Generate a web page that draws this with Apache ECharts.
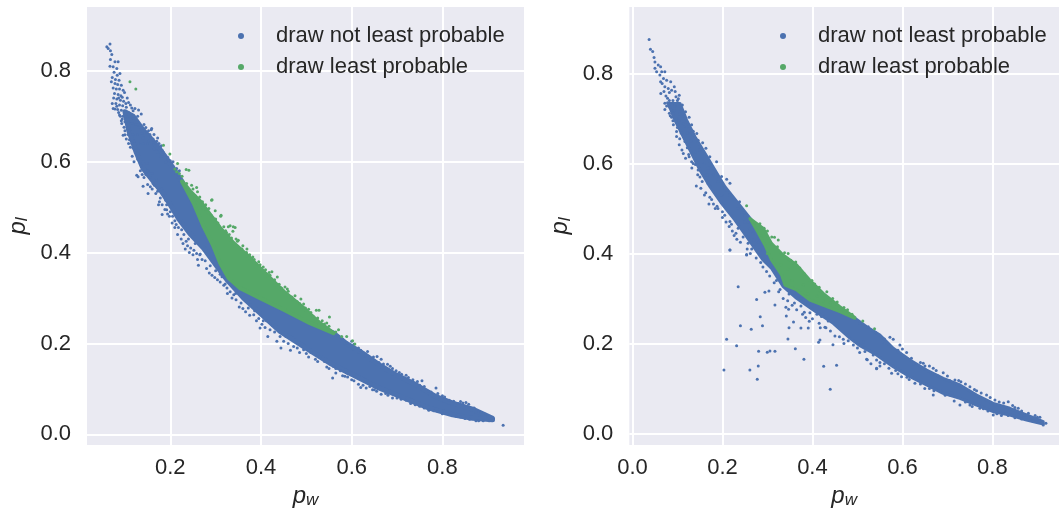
<!DOCTYPE html>
<html>
<head>
<meta charset="utf-8">
<style>html,body{margin:0;padding:0;background:#fff}#c{width:1059px;height:513px}</style>
<script src="https://cdn.jsdelivr.net/npm/echarts@6/dist/echarts.min.js"></script>
</head>
<body>
<div id="c"></div>
<script>
const xTicksLeft = [0.2, 0.4, 0.6, 0.8];
const xTicksRight = [0.0, 0.2, 0.4, 0.6, 0.8];
const yTicks = [0.0, 0.2, 0.4, 0.6, 0.8];
const seriesNames = ['draw not least probable', 'draw least probable'];

// dense regions, outlined: [p_w, p_l]
const leftBlueDense = [[.1,.71],[.118,.70],[.14,.67],[.175,.63],[.2,.595],[.226,.556],[.2514,.509],[.2734,.4576],[.2954,.4135],[.31,.3768],[.3285,.3438],[.354,.3217],[.398,.2997],[.45,.274],[.508,.2446],[.56,.2226],[.5875,.2007],[.624,.1787],[.661,.153],[.698,.131],[.742,.109],[.786,.083],[.8225,.0686],[.8665,.0554],[.9106,.0355],[.9106,.032],[.8665,.0355],[.8225,.0429],[.771,.0576],[.734,.0722],[.698,.087],[.661,.1016],[.624,.12],[.5875,.1383],[.552,.1565],[.494,.193],[.442,.2263],[.398,.2667],[.3615,.2997],[.325,.34],[.303,.3695],[.273,.41],[.243,.442],[.22,.472],[.2,.505],[.18,.535],[.16,.56],[.14,.585],[.125,.62],[.108,.67]];
const leftGreenDense = [[.2257,.5567],[.244,.5347],[.266,.5126],[.288,.4833],[.31,.4539],[.3395,.4209],[.376,.3878],[.413,.351],[.45,.3144],[.494,.2777],[.53,.2446],[.56,.2226],[.508,.2446],[.45,.274],[.398,.2997],[.354,.3217],[.3285,.3438],[.31,.3768],[.2954,.4135],[.2734,.4576],[.2514,.509]];
const rightBlueDense = [[.0796,.7337],[.1056,.7337],[.1204,.6967],[.1389,.6596],[.1611,.6226],[.1833,.5856],[.2056,.5485],[.2352,.5115],[.2648,.4744],[.287,.4374],[.309,.3856],[.3315,.3522],[.339,.33],[.365,.319],[.3944,.2967],[.4315,.282],[.461,.2708],[.4944,.256],[.5204,.2374],[.55,.2189],[.5796,.1893],[.6167,.1633],[.6537,.1411],[.6907,.1226],[.7278,.1078],[.7648,.0856],[.8019,.067],[.8389,.056],[.8759,.0411],[.913,.0263],[.913,.0211],[.8759,.03],[.8389,.0411],[.8019,.0485],[.7648,.0633],[.7278,.0781],[.6907,.0893],[.6537,.1078],[.6167,.1263],[.5796,.1485],[.5426,.1744],[.5056,.195],[.4833,.212],[.4463,.2448],[.4019,.2744],[.3648,.3004],[.3352,.3263],[.3093,.367],[.2907,.385],[.2796,.4004],[.2537,.4374],[.2278,.4744],[.1981,.5115],[.1722,.5485],[.15,.5856],[.1315,.6226],[.113,.6596],[.0944,.6967]];
const rightGreenDense = [[.261,.478],[.291,.456],[.309,.4226],[.335,.3967],[.365,.3744],[.394,.341],[.424,.3115],[.461,.2819],[.4944,.258],[.4944,.256],[.461,.2708],[.4315,.282],[.3944,.2967],[.365,.319],[.339,.33],[.3315,.3522],[.309,.3856],[.2944,.419],[.276,.452]];

// individual points: [p_w, p_l]
const leftBluePoints = [[.067,.859],[.06,.853],[.063,.849],[.068,.844],[.071,.836],[.068,.825],[.078,.82],[.085,.82],[.067,.81],[.074,.809],[.082,.805],[.089,.794],[.076,.797],[.083,.79],[.072,.785],[.079,.781],[.087,.779],[.07,.776],[.078,.772],[.084,.77],[.092,.768],[.074,.762],[.081,.76],[.088,.76],[.096,.757],[.077,.75],[.085,.748],[.091,.745],[.099,.752],[.075,.74],[.082,.738],[.09,.735],[.097,.733],[.105,.74],[.08,.728],[.088,.725],[.095,.723],[.103,.72],[.112,.725],[.072,.728],[.084,.715],[.092,.713],[.1,.71],[.108,.708],[.118,.712],[.074,.717],[.078,.716],[.088,.703],[.096,.7],[.104,.698],[.112,.697],[.12,.695],[.128,.7],[.136,.705],[.122,.717],[.13,.714],[.092,.69],[.1,.688],[.108,.686],[.116,.684],[.124,.682],[.132,.68],[.142,.682],[.098,.676],[.106,.674],[.11,.668],[.093,.684],[.096,.658],[.1,.659],[.107,.66],[.118,.66],[.128,.66],[.138,.662],[.148,.665],[.158,.67],[.159,.673],[.11,.648],[.12,.645],[.13,.64],[.14,.64],[.152,.645],[.162,.65],[.172,.652],[.118,.63],[.128,.625],[.165,.635],[.175,.64],[.185,.62],[.115,.64],[.129,.618],[.126,.57],[.129,.567],[.14,.546],[.151,.53],[.162,.552],[.174,.505],[.192,.494],[.182,.484],[.13,.61],[.14,.6],[.136,.592],[.148,.596],[.15,.58],[.16,.574],[.155,.565],[.17,.56],[.165,.548],[.18,.54],[.172,.535],[.185,.525],[.178,.52],[.19,.515],[.192,.505],[.194,.485],[.2,.49],[.205,.48],[.21,.47],[.218,.455],[.213,.462],[.225,.45],[.23,.44],[.222,.468],[.235,.425],[.24,.43],[.245,.41],[.25,.395],[.26,.385],[.255,.42],[.265,.395],[.233,.408],[.266,.397],[.277,.382],[.288,.371],[.314,.347],[.321,.331],[.332,.314],[.34,.307],[.356,.289],[.372,.278],[.384,.263],[.398,.234],[.409,.235],[.415,.215],[.442,.215],[.444,.19],[.472,.193],[.494,.186],[.53,.171],[.56,.149],[.14,.652],[.155,.66],[.165,.628],[.172,.622],[.18,.612],[.19,.6],[.196,.604],[.203,.595],[.207,.589],[.212,.575],[.218,.57],[.15,.64],
[.3,.36],[.31,.335],[.325,.322],[.345,.296],[.36,.277],[.375,.262],[.39,.25],[.405,.25],[.42,.23],[.43,.225],[.45,.205],[.46,.2],[.48,.19],[.5,.178],[.51,.18],[.52,.165],[.54,.16],[.55,.145],[.558,.124],[.58,.129],[.591,.126],[.62,.103],[.632,.102],[.646,.098],[.665,.088],[.709,.077],[.745,.116],[.755,.118],[.786,.102],[.665,.165],[.656,.171],[.679,.154],[.698,.14],[.781,.052],[.845,.069],[.852,.07],[.874,.03],[.911,.036],[.934,.02],[.903,.03],[.6,.205],[.615,.19],[.635,.182],[.648,.17],[.69,.145],[.71,.132],[.725,.125],[.75,.108],[.77,.095],[.8,.085],[.815,.075],[.835,.068],[.858,.066],[.88,.05],[.895,.044],[.9,.04],[.59,.135],[.605,.118],[.64,.105],[.655,.095],[.68,.086],[.69,.08],[.72,.075],[.74,.065],[.76,.058],[.8,.045],[.83,.04],[.85,.035],[.89,.03],
[.086,.74],[.094,.742],[.102,.728],[.108,.73],[.115,.718],[.082,.722],[.086,.708],[.09,.7],[.094,.694],[.102,.7],[.1,.668],[.103,.65],[.108,.64],[.112,.632],[.116,.612],[.12,.6],[.124,.625],[.128,.606],[.134,.58],[.138,.572],[.142,.565],[.146,.572],[.15,.55],[.156,.545],[.16,.54],[.168,.53],[.176,.512],[.182,.505],[.188,.495],[.198,.48],[.204,.465],[.21,.455],[.216,.44],[.224,.43],[.228,.42],[.238,.415],[.242,.4],[.252,.405],[.258,.398],[.262,.372],[.27,.385],[.28,.365],[.286,.355],[.292,.35],[.298,.345],[.304,.34],[.31,.352],[.318,.328],[.326,.31],[.336,.3],[.344,.31],[.352,.28],[.366,.27],[.376,.285],[.386,.272],[.395,.255],[.402,.242],[.412,.25],[.425,.24],[.435,.205],[.455,.215],[.465,.185],[.485,.18],[.505,.17],[.525,.16],[.545,.148],[.565,.135],[.575,.14],
[.146,.675],[.152,.668],[.164,.66],[.17,.645],[.178,.63],[.182,.625],[.188,.615],[.194,.61],[.2,.602],[.206,.6],[.214,.585],[.22,.58],[.157,.655],[.163,.642],[.18,.635],
[.57,.215],[.58,.21],[.59,.2],[.605,.198],[.62,.185],[.63,.175],[.645,.165],[.66,.158],[.67,.155],[.685,.15],[.705,.136],[.72,.13],[.735,.12],[.76,.105],[.775,.093],[.79,.09],[.805,.082],[.825,.073],[.84,.072],[.87,.058],[.885,.048],
[.565,.145],[.585,.128],[.6,.12],[.615,.11],[.625,.108],[.65,.098],[.675,.09],[.7,.08],[.73,.068],[.75,.062],[.77,.053],[.79,.05],[.81,.046],[.84,.038],[.86,.033],[.88,.03]];
const leftGreenPoints = [[.111,.776],[.124,.76],[.185,.636],[.199,.617],[.216,.596],[.21,.584],[.235,.583],[.241,.581],[.22,.574],[.214,.578],[.226,.568],[.236,.552],[.247,.548],[.258,.543],[.291,.515],[.26,.534],[.271,.512],[.299,.492],[.311,.48],[.339,.457],[.328,.457],[.324,.444],[.292,.516],[.312,.482],[.332,.459],[.343,.455],[.338,.447],[.35,.427],[.369,.408],[.398,.373],[.424,.358],[.436,.346],[.453,.324],[.475,.305],[.488,.298],[.494,.287],[.522,.273],[.528,.273],[.551,.258],[.571,.23],[.589,.215],[.602,.206],[.607,.199],[.578,.215],[.545,.245],[.25,.54],[.265,.522],[.278,.505],[.285,.497],[.3,.474],[.318,.457],[.33,.44],[.345,.43],[.36,.415],[.375,.395],[.385,.385],[.395,.38],[.41,.362],[.42,.35],[.44,.33],[.46,.315],[.47,.298],[.485,.288],[.505,.275],[.515,.26],[.535,.25],[.55,.238],[.565,.225],
[.255,.525],[.272,.498],[.28,.495],[.29,.482],[.305,.465],[.322,.448],[.335,.432],[.348,.425],[.358,.408],[.368,.4],[.382,.39],[.39,.375],[.405,.368],[.418,.356],[.43,.34],[.445,.322],[.458,.32],[.468,.302],[.48,.292],[.498,.278],[.51,.268],[.525,.256],[.54,.243]];
const rightBluePoints = [[.037,.876],[.04,.854],[.045,.849],[.048,.836],[.05,.826],[.0574,.819],[.0626,.815],[.05,.812],[.0537,.804],[.065,.804],[.072,.804],[.061,.797],[.069,.789],[.0626,.782],[.076,.785],[.085,.782],[.072,.771],[.0796,.767],[.063,.756],[.0744,.75],[.087,.763],[.093,.771],[.0967,.7485],[.104,.752],[.072,.734],[.072,.72],[.083,.725],[.087,.703],[.111,.73],[.126,.703],[.1315,.686],[.091,.686],[.098,.671],[.1167,.649],[.143,.667],[.146,.652],[.156,.646],[.113,.6226],[.1315,.604],[.1633,.634],[.172,.615],[.187,.604],[.146,.5856],[.163,.535],[.198,.571],[.2094,.565],[.2167,.556],[.2,.493],[.2167,.471],[.235,.456],[.246,.437],[.257,.4226],[.2167,.408],[.2537,.397],[.2833,.408],[.066,.778],[.07,.76],[.078,.745],[.082,.758],[.09,.74],[.095,.76],[.1,.74],[.076,.728],[.082,.712],[.092,.718],[.098,.7],[.105,.71],[.112,.705],[.118,.715],[.09,.695],[.1,.68],[.108,.668],[.12,.68],[.128,.665],[.135,.672],[.105,.655],[.122,.635],[.125,.62],[.14,.625],[.15,.63],[.135,.6],[.145,.575],[.16,.6],[.168,.59],[.155,.56],[.168,.555],[.18,.575],[.19,.56],[.172,.525],[.18,.51],[.205,.545],[.215,.53],[.19,.5],[.205,.485],[.225,.52],[.235,.5],[.215,.46],[.23,.445],[.24,.425],[.25,.47],[.26,.455],[.27,.43],[.265,.41],[.275,.39],[.2167,.4078],[.2537,.3981],[.235,.3263],[.2944,.3137],[.3033,.3167],[.276,.298],[.3167,.2856],[.341,.2804],[.347,.276],[.342,.261],[.284,.2596],[.358,.248],[.24,.2396],[.289,.2396],[.264,.2315],[.348,.2352],[.3744,.2344],[.3907,.2344],[.393,.2493],[.382,.2693],[.3944,.2685],[.3744,.2833],[.2093,.2093],[.2315,.195],[.3456,.21],[.362,.1885],[.2804,.1826],[.2996,.1804],[.3056,.1833],[.3167,.1826],[.3811,.1648],[.2033,.1411],[.261,.1411],[.2796,.15],[.2774,.1204],[.425,.1493],[.4537,.1515],[.4396,.0981],[.4167,.2078],[.4137,.2026],[.4456,.1974],[.4174,.2352],[.4278,.2359],[.32,.34],[.328,.32],[.348,.31],[.36,.29],[.375,.3],[.39,.288],[.41,.265],[.42,.26],[.435,.25],[.45,.2167],[.4685,.2093],[.4796,.2063],[.491,.1967],[.513,.204],[.5167,.182],[.5219,.1641],[.5426,.1633],[.5426,.1441],[.535,.1744],[.524,.2374],[.5204,.1648],[.5426,.1448],[.576,.1337],[.598,.1263],[.5722,.2137],[.5796,.2093],[.5944,.1967],[.6093,.18],[.62,.1674],[.6463,.1559],[.6685,.1448],[.6907,.1352],[.7167,.1189],[.75,.104],[.7648,.0952],[.787,.0856],[.8056,.0744],[.8352,.0707],[.8574,.0559],[.9056,.0359],[.9189,.0226],[.913,.0189],[.8981,.0263],[.8019,.0411],[.7722,.0559],[.75,.0633],[.7278,.0633],[.7056,.0856],[.6685,.0856],[.6496,.1],[.6278,.1119],[.56,.155],[.585,.14],[.61,.125],[.635,.118],[.66,.1],[.685,.095],[.71,.09],[.74,.07],[.78,.055],[.82,.04],[.85,.035],[.87,.04],[.89,.028],[.56,.2],[.59,.185],[.625,.155],[.65,.15],[.68,.128],[.705,.118],[.73,.115],[.775,.09],[.815,.07],[.85,.058],[.88,.045],[.895,.04],
[.078,.735],[.082,.74],[.088,.732],[.094,.728],[.102,.744],[.108,.72],[.084,.706],[.09,.712],[.103,.695],[.113,.688],[.122,.668],[.13,.65],[.098,.66],[.104,.642],[.11,.63],[.118,.612],[.126,.615],[.132,.59],[.14,.598],[.142,.55],[.15,.57],[.152,.545],[.16,.53],[.166,.575],[.17,.51],[.176,.52],[.184,.5],[.188,.505],[.198,.53],[.2,.48],[.208,.47],[.21,.54],[.22,.465],[.222,.45],[.226,.44],[.232,.432],[.238,.515],[.244,.492],[.25,.485],[.258,.47],[.268,.445],[.27,.415],[.28,.425],[.255,.41],[.262,.4],[.285,.38],[.29,.37],[.298,.36],[.305,.35],[.315,.335],[.325,.315],[.335,.3],[.345,.295],[.355,.285],[.365,.275],[.378,.265],[.385,.258],[.4,.255],[.415,.245],[.43,.235],[.44,.228],[.46,.215],[.47,.2],[.5,.19],[.505,.18],[.53,.155],[.55,.15],[.505,.245],[.54,.225],[.56,.21],[.6,.188],[.64,.158],[.66,.15],[.675,.14],[.7,.128],[.725,.118],[.74,.11],[.76,.098],[.795,.08],[.825,.068],[.845,.062],[.865,.05],[.9,.036],[.905,.028],[.865,.032],[.835,.04],[.81,.044],[.79,.05],[.755,.06],[.715,.072],[.695,.085],[.67,.095],[.64,.11],[.615,.12],[.59,.133],[.57,.145],[.55,.158]];
const rightGreenPoints = [[.2537,.506],[.289,.457],[.2667,.47],[.2833,.466],[.2926,.456],[.2852,.44],[.3,.45],[.3096,.437],[.3157,.436],[.3089,.42],[.3241,.43],[.3222,.415],[.338,.402],[.346,.4],[.352,.385],[.363,.381],[.372,.368],[.382,.355],[.399,.34],[.405,.332],[.415,.325],[.432,.315],[.445,.3],[.455,.292],[.47,.28],[.478,.275],[.488,.265],[.512,.25],[.538,.233],[.3,.4],[.33,.375],[.345,.365],[.355,.34],[.38,.33],[.39,.31],[.41,.305],[.425,.295],[.44,.29]];

const sizeDot = 3;
const colors = { blue: '#4C72B0', green: '#55A868', text: '#262626', plot: '#EAEAF2' };
const fontFamily = '"Liberation Sans", Arial, sans-serif';

function polySeries(points, color, idx, stroke) {
  return {
    type: 'custom', name: 'band' + idx + color, coordinateSystem: 'cartesian2d',
    xAxisIndex: idx, yAxisIndex: idx, silent: true, data: [0],
    renderItem: function (params, api) {
      return { type: 'polygon', shape: { points: points.map(p => api.coord(p)) },
        style: { fill: color, stroke: color, lineWidth: stroke, lineJoin: 'round' } };
    }
  };
}
function dotSeries(name, points, color, idx) {
  return { type: 'scatter', name: name, xAxisIndex: idx, yAxisIndex: idx, data: points,
    symbol: 'circle', symbolSize: sizeDot, itemStyle: { color: color, opacity: 1 }, silent: true, animation: false };
}
function xAxisOf(idx, min, max, ticks) {
  return { type: 'value', gridIndex: idx, min: min, max: max, scale: true,
    name: '{p|p}{s|w}', nameLocation: 'middle', nameGap: 38,
    nameTextStyle: { rich: { p: { fontFamily, fontStyle: 'italic', fontSize: 24, color: colors.text },
      s: { fontFamily, fontStyle: 'italic', fontSize: 17, color: colors.text, padding: [8, 0, 0, 0] } } },
    axisLine: { show: false },
    axisTick: { show: false, customValues: ticks },
    axisLabel: { customValues: ticks, fontFamily, fontSize: 22, color: colors.text, margin: 12, formatter: v => v.toFixed(1), showMinLabel: true, showMaxLabel: true },
    splitLine: { show: true, lineStyle: { color: '#fff', width: 2 } } };
}
function yAxisOf(idx, min, max) {
  return { type: 'value', gridIndex: idx, min: min, max: max, scale: true,
    name: '{p|p}{s|l}', nameLocation: 'middle', nameGap: 56, nameRotate: 90,
    nameTextStyle: { rich: { p: { fontFamily, fontStyle: 'italic', fontSize: 24, color: colors.text },
      s: { fontFamily, fontStyle: 'italic', fontSize: 17, color: colors.text, padding: [8, 0, 0, 0] } } },
    axisLine: { show: false },
    axisTick: { show: false, customValues: yTicks },
    axisLabel: { customValues: yTicks, fontFamily, fontSize: 22, color: colors.text, margin: 16, padding: [3, 0, 0, 0], formatter: v => v.toFixed(1) },
    splitLine: { show: true, lineStyle: { color: '#fff', width: 2 } } };
}
function legendAt(left) {
  return { left: left, top: 20, orient: 'vertical', data: seriesNames, selectedMode: false, icon: 'circle',
    itemWidth: 6, itemHeight: 6, itemGap: 9,
    textStyle: { fontFamily, fontSize: 22, color: colors.text, padding: [0, 0, 0, 27] } };
}

const chart = echarts.init(document.getElementById('c'), null, { renderer: 'canvas' });
chart.setOption({
  animation: false,
  backgroundColor: '#fff',
  grid: [
    { left: 87, top: 7, width: 437, height: 438, show: true, backgroundColor: colors.plot, borderWidth: 0, outerBoundsMode: 'none' },
    { left: 629.3, top: 7, width: 429.7, height: 438, show: true, backgroundColor: colors.plot, borderWidth: 0, outerBoundsMode: 'none' }
  ],
  xAxis: [xAxisOf(0, 0.0163, 0.98, xTicksLeft), xAxisOf(1, -0.007, 0.948, xTicksRight)],
  yAxis: [yAxisOf(0, -0.0235, 0.9404), yAxisOf(1, -0.0256, 0.948)],
  legend: [legendAt(233), legendAt(775)],
  series: [
    polySeries(leftBlueDense, colors.blue, 0, 5),
    dotSeries(seriesNames[0], leftBluePoints, colors.blue, 0),
    polySeries(leftGreenDense, colors.green, 0, 4),
    dotSeries(seriesNames[1], leftGreenPoints, colors.green, 0),
    polySeries(rightBlueDense, colors.blue, 1, 3),
    dotSeries(seriesNames[0], rightBluePoints, colors.blue, 1),
    polySeries(rightGreenDense, colors.green, 1, 3),
    dotSeries(seriesNames[1], rightGreenPoints, colors.green, 1)
  ]
});
</script>
</body>
</html>
